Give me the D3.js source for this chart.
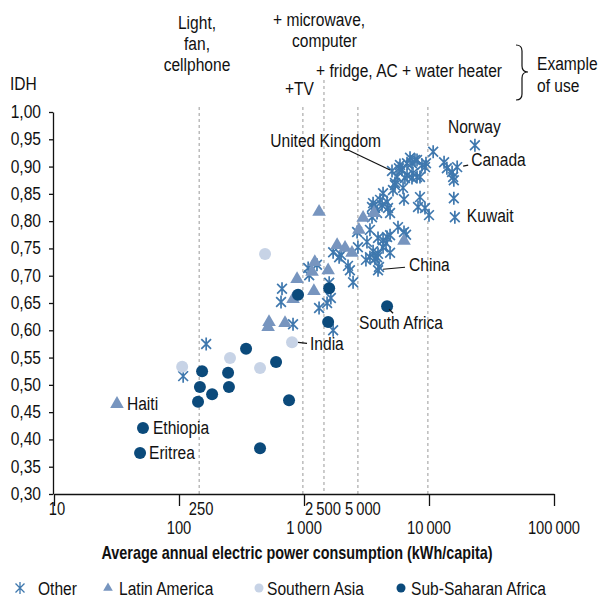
<!DOCTYPE html>
<html>
<head>
<meta charset="utf-8">
<script src="https://cdn.jsdelivr.net/npm/d3@7"></script>
<style>
  body { margin: 0; background: #fff; }
  svg text { font-family: "Liberation Sans", Arial, sans-serif; font-size: 19px; fill: #111; }
</style>
</head>
<body>
<div id="chart"></div>
<script>
// Data (kWh per capita, IDH)
const otherPts = [
  [108, 0.516], [165, 0.575], [667, 0.676], [655, 0.652], [817, 0.611], [1080, 0.714], [1100, 0.701],
  [1270, 0.720], [1320, 0.641], [1590, 0.687], [1640, 0.659], [1530, 0.650], [1710, 0.600],
  [1710, 0.743], [1910, 0.734], [1980, 0.738], [2250, 0.718], [2330, 0.710], [2470, 0.688],
  [2660, 0.780], [2700, 0.752], [3130, 0.729], [3190, 0.762], [3370, 0.784], [3570, 0.745],
  [3700, 0.731], [3910, 0.769], [3910, 0.740], [3980, 0.716], [3910, 0.710, "China"], [4290, 0.752],
  [4620, 0.771], [4880, 0.742], [4530, 0.760], [3370, 0.734], [3840, 0.734], [4290, 0.765], [4880, 0.774],
  [3500, 0.826], [4210, 0.829], [4700, 0.824], [3840, 0.815], [3500, 0.807], [3570, 0.833], [3700, 0.824],
  [4290, 0.851], [4060, 0.839], [5150, 0.857], [5340, 0.866], [6200, 0.861], [6310, 0.840], [8470, 0.844],
  [8170, 0.826], [9290, 0.824], [10000, 0.811], [5650, 0.789], [6310, 0.780], [6550, 0.775],
  [5060, 0.892, "United Kingdom"], [6080, 0.894], [5550, 0.881], [6670, 0.884], [7450, 0.888], [8020, 0.881],
  [8470, 0.881], [7310, 0.879], [5860, 0.903], [6670, 0.906], [7310, 0.906], [7050, 0.916], [8020, 0.912],
  [8790, 0.903], [9460, 0.906], [10800, 0.927], [13200, 0.908], [13900, 0.897], [16800, 0.899, "Canada"],
  [15300, 0.890], [15600, 0.881], [15800, 0.875], [15800, 0.842], [16100, 0.807, "Kuwait"],
  [23300, 0.939, "Norway"], [5340, 0.870], [6420, 0.879], [5750, 0.897], [7720, 0.912], [9290, 0.899],
  [4620, 0.835], [4880, 0.815]
]
const latinPts = [
  [31.9, 0.465, "Haiti"], [525, 0.615], [516, 0.606], [705, 0.613], [817, 0.657], [880, 0.694],
  [1160, 0.707], [1220, 0.725], [1200, 0.672], [1560, 0.710], [1320, 0.817], [1840, 0.756],
  [2130, 0.751], [2420, 0.742], [2750, 0.784], [2970, 0.806], [3630, 0.815], [6310, 0.764]
]
const asiaPts = [
  [106, 0.533], [256, 0.549], [445, 0.531], [488, 0.740], [802, 0.578, "India"]
]
const africaPts = [
  [51.5, 0.421, "Ethiopia"], [48.8, 0.375, "Eritrea"], [142, 0.469], [147, 0.496], [153, 0.525],
  [184, 0.483], [247, 0.522], [251, 0.496], [344, 0.566], [598, 0.542], [759, 0.472], [445, 0.384],
  [896, 0.665], [1590, 0.677], [1560, 0.615], [4620, 0.644, "South Africa"]
]

const yTicks = d3.range(0.30, 1.0001, 0.05)
const xTicks = [10, 100, 1000, 10000, 100000]
const useLines = [145, 980, 1445, 2700, 9800]
const useLineLabels = ["250", "", "2\u2009500", "5\u2009000", ""]

const seriesNames = ["Other", "Latin America", "Southern Asia", "Sub-Saharan Africa"]
const seriesColors = ["#3f78ae", "#7795bf", "#c7d3e6", "#0b4a7b"]

// chart setup
const width = 600, height = 598
const narrow = 0.82
const svg = d3.select("#chart").append("svg")
    .attr("width", width)
    .attr("height", height)

const x = d3.scaleLog().domain([10, 100000]).range([54, 554])
const y = d3.scaleLinear().domain([0.30, 1.00]).range([494, 112])

const fmt = d3.formatLocale({decimal: ",", thousands: "\u2009", grouping: [3], currency: ["", ""]})
const yFmt = fmt.format(".2f")
const xFmt = fmt.format(",d")

// condensed text: squeeze a normal face horizontally
function txt(parent, px, py, s, anchor="start"){
    return parent.append("text")
        .attr("transform", `translate(${px},${py}) scale(${narrow},1)`)
        .attr("text-anchor", anchor)
        .text(s)
}

// dashed lines for example of use
const useLabelShift = [2, 0, -1, 5, 0]
useLines.forEach((v, i) => {
    svg.append("line")
        .attr("x1", x(v)).attr("x2", x(v))
        .attr("y1", i == 2 ? 80 : 107).attr("y2", 494)
        .attr("stroke", "#999").attr("stroke-width", 1)
        .attr("stroke-dasharray", "3,3")
    if (useLineLabels[i])
        txt(svg, x(v) + useLabelShift[i], 515, useLineLabels[i], "middle").style("font-size", "18px")
})

// y axis
const yAxis = svg.append("g")
    .attr("transform", "translate(53,0)")
    .call(d3.axisLeft(y).tickValues(yTicks).tickFormat("").tickSize(4).tickSizeOuter(0))
yAxis.select(".domain").attr("stroke", "#111").attr("stroke-width", 1.3)
yAxis.selectAll(".tick line").attr("stroke", "#111").attr("stroke-width", 1.3)
yTicks.forEach(v => txt(svg, 41, y(v) + 6, yFmt(v), "end"))

// x axis
const xAxis = svg.append("g")
    .attr("transform", "translate(0,494)")
    .call(d3.axisBottom(x).tickValues(xTicks).tickFormat("").tickSize(12).tickSizeOuter(0))
xAxis.select(".domain").attr("stroke", "#111").attr("stroke-width", 1.3)
xAxis.selectAll(".tick line").attr("stroke", "#111").attr("stroke-width", 1.3)
xTicks.forEach((v, i) =>
    txt(svg, x(v) + (i == 0 ? 3 : 0), i == 0 ? 515 : 534, xFmt(v), "middle").style("font-size", "18px"))

txt(svg, 297, 559, "Average annual electric power consumption (kWh/capita)", "middle")
    .attr("transform", "translate(297,559) scale(0.8,1)")
    .style("font-weight", "bold").style("font-size", "18px")

txt(svg, 10, 90, "IDH")

// top annotations
const ann = svg.append("g")
txt(ann, 197, 29, "Light,", "middle")
txt(ann, 197, 50, "fan,", "middle")
txt(ann, 197, 71, "cellphone", "middle")
txt(ann, 273, 26, "+ microwave,")
txt(ann, 292, 47, "computer")
txt(ann, 285, 95, "+TV")
txt(ann, 316, 77, "+ fridge, AC + water heater")
txt(ann, 537, 70, "Example")
txt(ann, 537, 92, "of use")
ann.append("path")
    .attr("d", "M516,45 Q522,45 522,51 L522,66 Q522,72 528,72 Q522,72 522,78 L522,94 Q522,100 516,100")
    .attr("fill", "none").attr("stroke", "#111").attr("stroke-width", 1.2)

// markers
function star(r){
    const a = r * 0.75
    return `M${-a},${-a}L${a},${a}M${-a},${a}L${a},${-a}M0,${-r}L0,${r}`
}

const plot = svg.append("g")
plot.selectAll(".other").data(otherPts).join("path")
    .attr("transform", d => `translate(${x(d[0])},${y(d[1])})`)
    .attr("d", star(6.5))
    .attr("fill", "none").attr("stroke", seriesColors[0]).attr("stroke-width", 1.7)

plot.selectAll(".latin").data(latinPts).join("path")
    .attr("transform", d => `translate(${x(d[0])},${y(d[1])})`)
    .attr("d", d3.symbol(d3.symbolTriangle, 80))
    .attr("fill", seriesColors[1])

plot.selectAll(".asia").data(asiaPts).join("circle")
    .attr("cx", d => x(d[0])).attr("cy", d => y(d[1])).attr("r", 6)
    .attr("fill", seriesColors[2])

plot.selectAll(".africa").data(africaPts).join("circle")
    .attr("cx", d => x(d[0])).attr("cy", d => y(d[1])).attr("r", 6)
    .attr("fill", seriesColors[3])

// country labels: offset from the point, optional leader
const labelStyle = {
    "Norway": {dx: -27, dy: -12},
    "Canada": {dx: 14, dy: -1, lead: [6, -1, 11, -2]},
    "Kuwait": {dx: 12, dy: 5},
    "United Kingdom": {dx: -11, dy: -24, anchor: "end", lead: [-44, -21, -2, -1]},
    "China": {dx: 31, dy: 1, lead: [5, -1, 27, -3]},
    "India": {dx: 18, dy: 8, lead: [6, 0, 15, 1]},
    "South Africa": {dx: -28, dy: 23, lead: [2, 3, 6, 7]},
    "Haiti": {dx: 10, dy: 6},
    "Ethiopia": {dx: 10, dy: 6},
    "Eritrea": {dx: 9, dy: 6}
}
const labeled = [...otherPts, ...latinPts, ...asiaPts, ...africaPts].filter(d => d[2])
labeled.forEach(d => {
    const s = labelStyle[d[2]]
    const px = x(d[0]), py = y(d[1])
    if (s.lead)
        svg.append("line")
            .attr("x1", px + s.lead[0]).attr("y1", py + s.lead[1])
            .attr("x2", px + s.lead[2]).attr("y2", py + s.lead[3])
            .attr("stroke", "#111").attr("stroke-width", 1.2)
    txt(svg, px + s.dx, py + s.dy, d[2], s.anchor || "start")
})

// legend
const legendX = [20, 108, 259, 401]
const legendGap = [18, 11, 8, 10]
const legend = svg.append("g")
seriesNames.forEach((name, i) => {
    const g = legend.append("g").attr("transform", `translate(${legendX[i]},588)`)
    if (i == 0) g.append("path").attr("d", star(6)).attr("fill", "none")
        .attr("stroke", seriesColors[0]).attr("stroke-width", 1.3)
    else if (i == 1) g.append("path").attr("d", d3.symbol(d3.symbolTriangle, 40)).attr("fill", seriesColors[1])
    else g.append("circle").attr("r", 4.5).attr("fill", seriesColors[i])
    txt(g, legendGap[i], 7, name)
})
</script>
</body>
</html>
